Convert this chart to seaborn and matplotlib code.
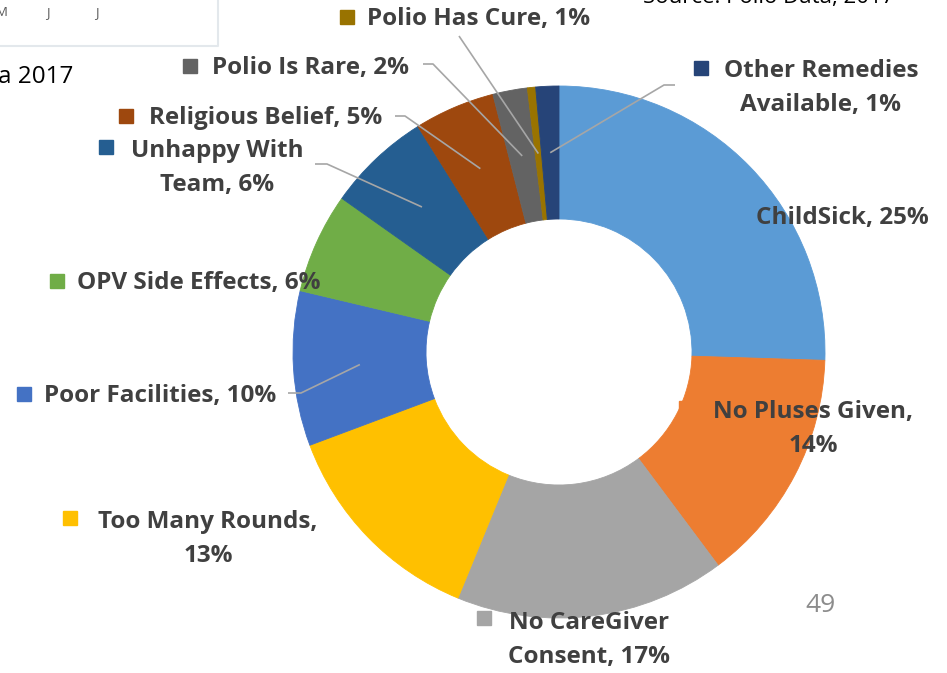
import numpy as np
import matplotlib
matplotlib.use("Agg")
import matplotlib.pyplot as plt
import seaborn as sns

# slice shares (clockwise from 12 o'clock)
reasons = ["ChildSick", "No Pluses Given", "No CareGiver Consent", "Too Many Rounds",
           "Poor Facilities", "OPV Side Effects", "Unhappy With Team", "Religious Belief",
           "Polio Is Rare", "Polio Has Cure", "Other Remedies Available"]
shares = [25.5, 14.3, 16.4, 13.1, 9.4, 6.1, 6.3, 4.9, 2.1, 0.5, 1.4]
pct_labels = ["25%", "14%", "17%", "13%", "10%", "6%", "6%", "5%", "2%", "1%", "1%"]
colors = ["#5B9BD5", "#ED7D31", "#A5A5A5", "#FFC000", "#4472C4", "#70AD47",
          "#255E91", "#9E480E", "#636363", "#997300", "#264478"]

sns.set_theme(style="white")
plt.rcParams["font.family"] = ["Open Sans", "DejaVu Sans"]

W, H = 947, 673
fig = plt.figure(figsize=(W / 100, H / 100), dpi=100)
ax = fig.add_axes([0, 0, 1, 1])

R = 266
cx, cy = 559, H - 352
wedges, _ = ax.pie(shares, colors=colors, startangle=90, counterclock=False,
                   radius=R, center=(cx, cy), wedgeprops=dict(width=R * 0.5, linewidth=0.6))
for w in wedges:
    w.set_edgecolor(w.get_facecolor())

ax.set_xlim(0, W)
ax.set_ylim(0, H)
ax.set_aspect("equal")
ax.axis("off")

txt_col = "#404040"
fs = 17.5

def label(i, text, x, y, ha="left", key=None):
    ax.text(x, H - y - 2, text, ha=ha, va="center", fontsize=fs, fontweight="bold",
            color=txt_col, linespacing=1.55, multialignment="center")
    if key is not None:
        ax.plot(key[0], H - key[1], marker="s", ms=9.5, color=colors[i], mec=colors[i])

def mid_point(i, frac=0.75):
    w = wedges[i]
    t = np.deg2rad((w.theta1 + w.theta2) / 2)
    return cx + frac * R * np.cos(t), cy + frac * R * np.sin(t)

def leader(i, pts):
    px, py = mid_point(i)
    xs = [p[0] for p in pts] + [px]
    ys = [H - p[1] for p in pts] + [py]
    ax.plot(xs, ys, color="#A6A6A6", lw=1.2, solid_capstyle="butt")

label(0, f"{reasons[0]}, {pct_labels[0]}", 756, 216)
label(1, f"No Pluses Given,\n{pct_labels[1]}", 813, 427, ha="center", key=(686, 408))
label(2, f"No CareGiver\nConsent, {pct_labels[2]}", 589, 638, ha="center", key=(484, 618))
label(3, f"Too Many Rounds,\n{pct_labels[3]}", 208, 537, ha="center", key=(70, 518))
label(4, f"{reasons[4]}, {pct_labels[4]}", 44, 394, key=(24, 394))
label(5, f"{reasons[5]}, {pct_labels[5]}", 77, 281, key=(57, 281))
label(6, f"Unhappy With\nTeam, {pct_labels[6]}", 217, 166, ha="center", key=(106, 147))
label(7, f"{reasons[7]}, {pct_labels[7]}", 149, 116, key=(126, 116))
label(8, f"{reasons[8]}, {pct_labels[8]}", 212, 66, key=(190, 66))
label(9, f"{reasons[9]}, {pct_labels[9]}", 367, 17, key=(347, 17))
label(10, f"Other Remedies\nAvailable, {pct_labels[10]}", 821, 86, ha="center", key=(701, 68))

leader(10, [(675, 85), (664, 85)])
leader(9, [(459, 36)])
leader(8, [(423, 64), (433, 64)])
leader(7, [(395, 116), (405, 116)])
leader(6, [(315, 164), (327, 164)])
leader(4, [(288, 393), (301, 393)])

# bits of the surrounding slide
ax.text(-2, H - 77, "a 2017", ha="left", va="center", fontsize=17.5, color="black")
ax.text(643, H - 3, "Source: Polio Data, 2017", ha="left", va="baseline", fontsize=16,
        color="black")
ax.text(820, H - 606, "49", ha="center", va="center", fontsize=19, color="#8C8C8C")
ax.plot([-2, 218, 218], [H - 46, H - 46, H + 2], color="#E3E8EC", lw=1.5)
for lx, lt in zip([2, 48, 97], ["M", "J", "J"]):
    ax.text(lx, H - 13, lt, ha="center", va="center", fontsize=9.5, color="#595959")

fig.savefig("out.png", dpi=100)
